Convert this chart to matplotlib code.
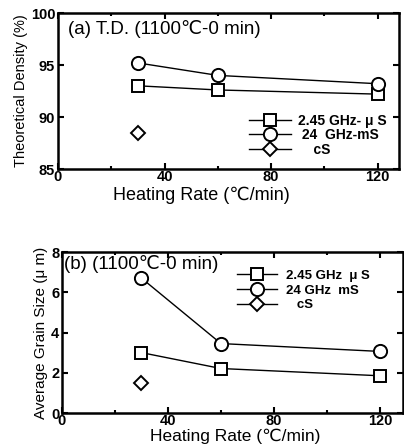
import matplotlib
matplotlib.use("Agg")
import matplotlib.pyplot as plt
from matplotlib.ticker import MultipleLocator

plt.rcParams['font.family'] = ['Liberation Sans', 'DejaVu Sans']

rates = [30, 60, 120]
td_245 = [93.0, 92.6, 92.2]
td_24 = [95.2, 94.0, 93.2]
td_cs_rate = [30]
td_cs = [88.5]

gs_245 = [3.0, 2.21, 1.85]
gs_24 = [6.7, 3.45, 3.06]
gs_cs_rate = [30]
gs_cs = [1.47]

labels_a = ['2.45 GHz- \u03bc S', ' 24  GHz-mS', '    cS']
labels_b = ['2.45 GHz  \u03bc S', '24 GHz  mS', '   cS']

fig = plt.figure(figsize=(4.04, 4.48), dpi=100)
W, H = 404, 448

def px_axes(l, t, r, b):
    return fig.add_axes([l / W, 1 - b / H, (r - l) / W, (b - t) / H])

ax1 = px_axes(58, 13, 399, 169)
ax2 = px_axes(62, 252, 403, 413)

mk = dict(markerfacecolor='white', markeredgecolor='black', markeredgewidth=1.4, color='black', linewidth=1.0)

for ax, s245, s24, cr, cs, labs in [
    (ax1, td_245, td_24, td_cs_rate, td_cs, labels_a),
    (ax2, gs_245, gs_24, gs_cs_rate, gs_cs, labels_b)]:
    ax.plot(rates, s245, marker='s', markersize=9, label=labs[0], **mk)
    ax.plot(rates, s24, marker='o', markersize=9.5, label=labs[1], **mk)
    ax.plot(cr, cs, marker='D', markersize=7.5, label=labs[2], **mk)
    for sp in ax.spines.values():
        sp.set_linewidth(1.8)
    ax.xaxis.set_major_locator(MultipleLocator(40))
    ax.xaxis.set_minor_locator(MultipleLocator(20))
    ax.tick_params(which='both', direction='in', top=True, right=True, labelsize=10.5, width=1.5, pad=2)
    ax.tick_params(axis='x', pad=1)
    ax.tick_params(which='major', length=4)
    ax.tick_params(which='minor', length=2.5)
    for lab in ax.get_xticklabels() + ax.get_yticklabels():
        lab.set_fontweight('bold')

ax1.set_xlim(0, 128)
ax1.set_ylim(85, 100)
ax1.yaxis.set_major_locator(MultipleLocator(5))
ax1.set_xlabel('Heating Rate (\u2103/min)', fontsize=13, labelpad=0)
ax1.xaxis.set_label_coords(0.42, -0.115)
ax1.set_ylabel('Theoretical Density (%)', fontsize=10.5, labelpad=2)
ax1.text(0.03, 0.9, '(a) T.D. (1100\u2103-0 min)', transform=ax1.transAxes, fontsize=13.5, va='center')
ax1.legend(loc='upper left', bbox_to_anchor=(0.54, 0.40), frameon=False,
           handlelength=3.0, handletextpad=0.5, labelspacing=0.05, borderpad=0,
           prop={'weight': 'bold', 'size': 10})

ax2.set_xlim(0, 128.7)
ax2.set_ylim(0, 8)
ax2.yaxis.set_major_locator(MultipleLocator(2))
ax2.set_xlabel('Heating Rate (\u2103/min)', fontsize=12.5, labelpad=0)
ax2.xaxis.set_label_coords(0.507, -0.098)
ax2.set_ylabel('Average Grain Size (\u03bc m)', fontsize=11, labelpad=2)
ax2.text(0.005, 0.925, '(b) (1100\u2103-0 min)', transform=ax2.transAxes, fontsize=13.5, va='center')
ax2.legend(loc='upper left', bbox_to_anchor=(0.495, 0.93), frameon=False,
           handlelength=3.0, handletextpad=0.7, labelspacing=0.18, borderpad=0,
           prop={'weight': 'bold', 'size': 9.5})

fig.savefig('out.png', dpi=100)
